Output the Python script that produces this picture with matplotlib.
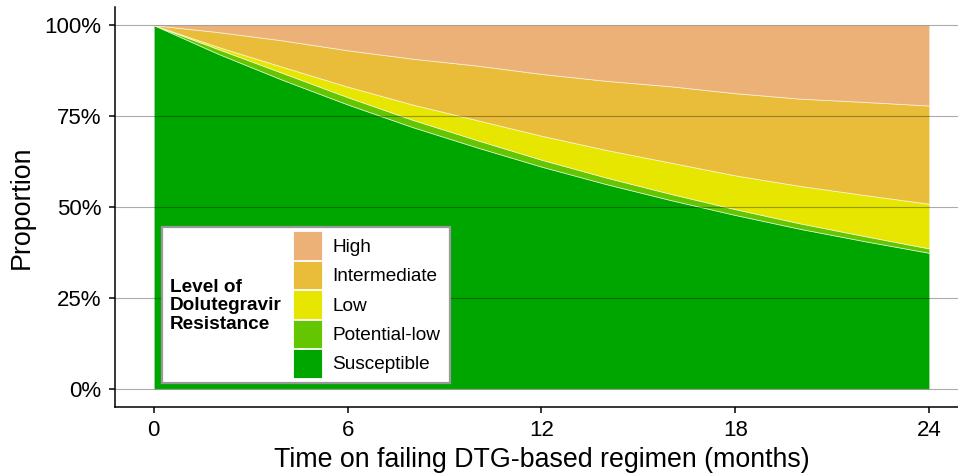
import matplotlib.pyplot as plt
import numpy as np
from matplotlib.patches import Patch, Rectangle
from matplotlib.ticker import PercentFormatter

plt.rcParams['font.family'] = ['Liberation Sans', 'DejaVu Sans']

# data (percent of population)
months = [0, 2, 4, 6, 8, 10, 12, 14, 16, 18, 20, 22, 24]
susceptible = [100, 92.1, 84.9, 78.2, 72.0, 66.4, 61.1, 56.3, 51.9, 47.8, 44.0, 40.6, 37.4]
potential_low = [0, 1.3, 1.9, 2.0, 2.0, 2.0, 1.9, 1.8, 1.7, 1.6, 1.5, 1.4, 1.2]
low = [0, 0.6, 1.7, 2.9, 4.2, 5.5, 6.6, 7.6, 8.6, 9.3, 10.3, 11.3, 12.3]
intermediate = [0, 4.1, 7.3, 10.0, 12.6, 15.0, 17.0, 19.0, 21.0, 22.6, 24.0, 25.6, 27.0]
high = [0, 1.9, 4.2, 6.9, 9.2, 11.1, 13.4, 15.3, 16.8, 18.7, 20.2, 21.1, 22.1]

levels = ["Susceptible", "Potential-low", "Low", "Intermediate", "High"]
colors = ["#00A600", "#63C600", "#E6E600", "#E9BD3A", "#ECB176"]

W, H = 958, 474
fig = plt.figure(figsize=(W / 100, H / 100), dpi=100)
# axes box in pixels: left 115, right 968 (runs past the image edge), top 7, bottom 407
ax = fig.add_axes([115 / W, 1 - 407 / H, (968 - 115) / W, (407 - 7) / H])

stack = np.array([susceptible, potential_low, low, intermediate, high]) / 100
ax.stackplot(months, stack, colors=colors, edgecolor=(1, 1, 1, 0.6), linewidth=0.6, zorder=1)

ax.set_xlim(-1.2, 25.2)
ax.set_ylim(-0.05, 1.05)
ax.set_xticks([0, 6, 12, 18, 24])
ax.set_yticks([0, 0.25, 0.5, 0.75, 1.0])
ax.yaxis.set_major_formatter(PercentFormatter(1.0, decimals=0))

# horizontal grid drawn over the areas
for y in [0, 0.25, 0.5, 0.75, 1.0]:
    ax.axhline(y, color="black", alpha=0.33, lw=0.8, zorder=2)

for s in ["top", "right"]:
    ax.spines[s].set_visible(False)
for s in ["left", "bottom"]:
    ax.spines[s].set_linewidth(1.1)
ax.tick_params(axis="both", length=4, width=1.1, color="black", labelsize=16)
ax.tick_params(axis="y", pad=6)
ax.tick_params(axis="x", pad=5.5)

ax.set_xlabel("Time on failing DTG-based regimen (months)", fontsize=19.3, labelpad=4)
ax.set_ylabel("Proportion", fontsize=19.3, labelpad=7)

# legend: box, title on the left, keys on the right
box = Rectangle((162 / W, 1 - 383 / H), (450 - 162) / W, (383 - 227) / H,
                transform=fig.transFigure, facecolor="white", edgecolor="#999999",
                lw=1.6, zorder=5)
fig.add_artist(box)
fig.text(170 / W, 1 - 306 / H, "Level of\nDolutegravir\nResistance", fontsize=13.7,
         fontweight="bold", ha="left", va="center", linespacing=1.1, zorder=6)

handles = [Patch(facecolor=c, edgecolor="white", lw=0.6) for c in colors[::-1]]
leg = fig.legend(handles, levels[::-1], loc="upper left",
                 bbox_to_anchor=(293 / W, 1 - 231.5 / H), frameon=False,
                 fontsize=13.7, borderpad=0, borderaxespad=0,
                 handlelength=1.52, handleheight=1.925, handletextpad=0.53,
                 labelspacing=0.05)
leg.set_zorder(6)

fig.savefig("out.png", dpi=100)
